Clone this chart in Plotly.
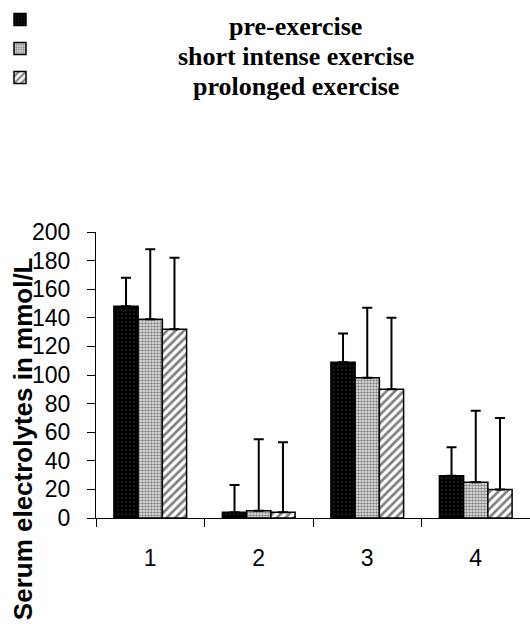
import plotly.graph_objects as go

categories = ["1", "2", "3", "4"]
series_names = ["pre-exercise", "short intense exercise", "prolonged exercise"]
pre_exercise = [148, 4, 109, 29.5]
short_intense = [139, 5, 98, 25]
prolonged = [132, 4, 90, 20]
err_pre = [20, 19, 20, 20]
err_short = [49, 50, 49, 50]
err_prolonged = [50, 49, 50, 50]
y_ticks = [0, 20, 40, 60, 80, 100, 120, 140, 160, 180, 200]

patterns = [
    dict(shape=".", fgcolor="#9a9a9a", bgcolor="black", size=4, solidity=0.08, fillmode="overlay"),
    dict(shape=".", fgcolor="#1a1a1a", bgcolor="#f0f0f0", size=3, solidity=0.55, fillmode="overlay"),
    dict(shape="/", fgcolor="black", bgcolor="white", size=6, solidity=0.45, fillmode="overlay"),
]
values = [pre_exercise, short_intense, prolonged]
errors = [err_pre, err_short, err_prolonged]

fig = go.Figure()
for i in range(3):
    fig.add_trace(go.Bar(
        x=categories, y=values[i], name=" ",
        marker=dict(color="white" if i else "black", pattern=patterns[i],
                    line=dict(color="black", width=1.5)),
        error_y=dict(type="data", array=errors[i], arrayminus=[0] * 4,
                     symmetric=False, color="black", thickness=2, width=5),
        showlegend=True,
    ))

for i, name in enumerate(series_names):
    fig.add_annotation(text="<b>" + name + "</b>", xref="paper", yref="paper",
                       x=(296 - 96) / 435, y=(518 - (27 + 29.5 * i)) / 286,
                       xanchor="center", yanchor="middle", showarrow=False,
                       font=dict(family="Liberation Serif", size=26, color="black"))

fig.add_annotation(text="<b>Serum electrolytes in mmol/L</b>", xref="paper", yref="paper",
                   x=(23 - 96) / 435, y=(518 - 439) / 286, textangle=-90,
                   xanchor="center", yanchor="middle", showarrow=False,
                   font=dict(family="Liberation Sans", size=26, color="black"))

fig.update_layout(
    width=530, height=624,
    margin=dict(l=96, r=0, t=232, b=106, autoexpand=False),
    paper_bgcolor="white", plot_bgcolor="white",
    barmode="group", bargap=0.33, bargroupgap=0,
    font=dict(family="Liberation Sans", color="black"),
    legend=dict(x=0, y=1, xref="container", yref="container",
                xanchor="left", yanchor="top",
                font=dict(size=20), itemwidth=30, tracegroupgap=0,
                bgcolor="rgba(0,0,0,0)"),
    xaxis=dict(type="category", showline=True, linecolor="black", linewidth=1,
               ticks="outside", tickson="boundaries", ticklen=8, tickcolor="black",
               tickfont=dict(size=23, family="Liberation Sans"), ticklabelstandoff=19,
               showgrid=False, zeroline=False, automargin=False),
    yaxis=dict(range=[0, 200], tickvals=y_ticks, showline=True, linecolor="black", linewidth=1,
               ticks="outside", ticklen=8, tickcolor="black",
               tickfont=dict(size=23, family="Liberation Sans"), ticklabelstandoff=12,
               showgrid=False, zeroline=False, automargin=False),
)

fig.write_html("out.html", config={"displayModeBar": False},
               post_script="document.body.style.margin='0';")
